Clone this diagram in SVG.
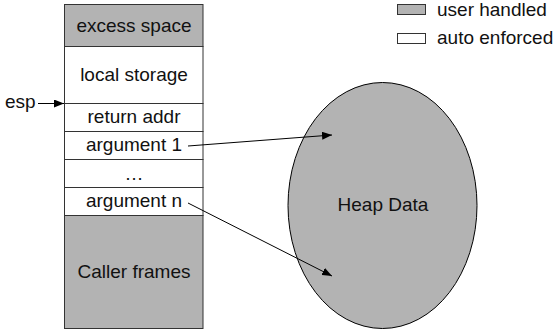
<svg xmlns="http://www.w3.org/2000/svg" width="555" height="333" viewBox="0 0 555 333">
  <style>
    text { font-family: "Liberation Sans", Arial, sans-serif; font-size: 19px; fill: #111; }
    .mid { text-anchor: middle; }
    .user { fill: #b3b3b3; }
    .auto { fill: #ffffff; }
    .cell { stroke: #333; stroke-width: 1; }
    .link { stroke: #000; stroke-width: 1; fill: none; }
  </style>
  <defs>
    <marker id="head" viewBox="0 0 10 8" refX="10" refY="4" markerWidth="10" markerHeight="8" markerUnits="userSpaceOnUse" orient="auto">
      <path d="M0,0 L10,4 L0,8 Z" fill="#000"/>
    </marker>
  </defs>

  <!-- legend -->
  <g id="legend">
    <rect class="user cell" x="397.5" y="4.5" width="28" height="10"/>
    <text x="437" y="15.5">user handled</text>
    <rect class="auto cell" x="397.5" y="33.5" width="28" height="10"/>
    <text x="437" y="44">auto enforced</text>
  </g>

  <!-- stack frame cells -->
  <g id="excess-space">
    <rect class="user cell" x="64.5" y="4.5" width="138.5" height="42"/>
    <text class="mid" x="134" y="32">excess space</text>
  </g>
  <g id="local-storage">
    <rect class="auto cell" x="64.5" y="46.5" width="138.5" height="57"/>
    <text class="mid" x="134" y="81">local storage</text>
  </g>
  <g id="return-addr">
    <rect class="auto cell" x="64.5" y="103.5" width="138.5" height="28"/>
    <text class="mid" x="134" y="123">return addr</text>
  </g>
  <g id="argument-1">
    <rect class="auto cell" x="64.5" y="131.5" width="138.5" height="28"/>
    <text class="mid" x="134" y="151">argument 1</text>
  </g>
  <g id="ellipsis">
    <rect class="auto cell" x="64.5" y="159.5" width="138.5" height="28"/>
    <text class="mid" x="134" y="180">…</text>
  </g>
  <g id="argument-n">
    <rect class="auto cell" x="64.5" y="187.5" width="138.5" height="28"/>
    <text class="mid" x="134" y="207">argument n</text>
  </g>
  <g id="caller-frames">
    <rect class="user cell" x="64.5" y="215.5" width="138.5" height="113"/>
    <text class="mid" x="134" y="278">Caller frames</text>
  </g>

  <!-- heap -->
  <g id="heap-data">
    <ellipse class="user" cx="382.5" cy="205.5" rx="94.5" ry="123" stroke="#000" stroke-width="1"/>
    <text class="mid" x="383" y="211">Heap Data</text>
  </g>

  <!-- esp label -->
  <g id="esp">
    <text x="5" y="108">esp</text>
  </g>

  <!-- connectors -->
  <g id="connectors">
    <line class="link" x1="38" y1="103.5" x2="64" y2="103.5" marker-end="url(#head)"/>
    <line class="link" x1="188" y1="146" x2="332" y2="135" marker-end="url(#head)"/>
    <line class="link" x1="188" y1="203" x2="332" y2="276" marker-end="url(#head)"/>
  </g>
</svg>
